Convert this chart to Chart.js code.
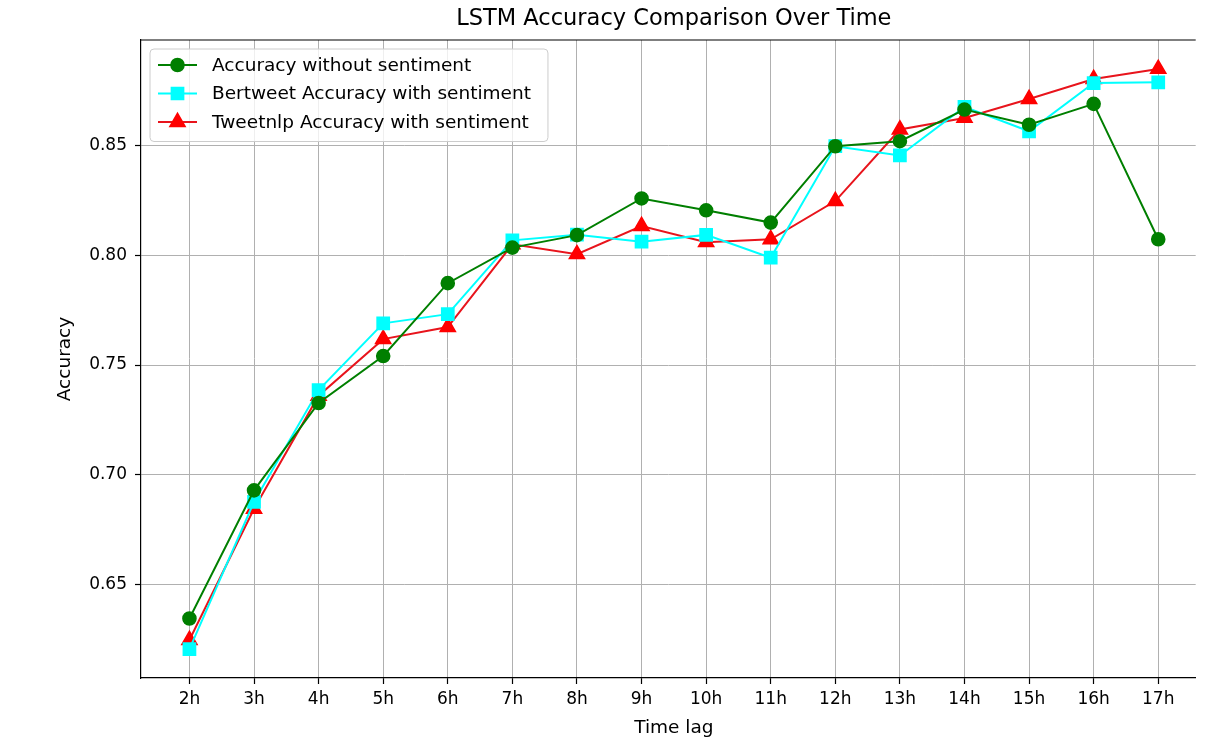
<!DOCTYPE html>
<html>
<head>
<meta charset="utf-8">
<title>LSTM Accuracy Comparison Over Time</title>
<script src="https://cdn.jsdelivr.net/npm/chart.js@4.4.0/dist/chart.umd.min.js"></script>
<style>
  html, body { margin: 0; padding: 0; background: #fff; overflow: hidden; }
  #wrap { width: 1206px; height: 741px; }
</style>
</head>
<body>
<div id="wrap"><canvas id="accChart" width="1206" height="741"></canvas></div>
<script>
// time lags on the x axis
const timeLags = ['2h', '3h', '4h', '5h', '6h', '7h', '8h', '9h', '10h', '11h', '12h', '13h', '14h', '15h', '16h', '17h'];

// accuracy per time lag
const accNoSentiment = [0.6345, 0.6929, 0.7327, 0.7541, 0.7873, 0.8035, 0.8092, 0.8259, 0.8205, 0.8149, 0.8497, 0.8520, 0.8664, 0.8595, 0.8690, 0.8073];
const accBertweet    = [0.6206, 0.6877, 0.7386, 0.7690, 0.7732, 0.8068, 0.8094, 0.8062, 0.8093, 0.7989, 0.8497, 0.8455, 0.8676, 0.8565, 0.8785, 0.8788];
const accTweetnlp    = [0.6247, 0.6845, 0.7360, 0.7618, 0.7673, 0.8050, 0.8005, 0.8133, 0.8060, 0.8073, 0.8247, 0.8573, 0.8626, 0.8712, 0.8803, 0.8849];

const yTicks = [0.65, 0.70, 0.75, 0.80, 0.85];

const FONT = "'DejaVu Sans', sans-serif";

// axes run from -0.75 to 15.75; the page cuts it off a little before the right end
const X_MIN = -0.75, X_FULL_MAX = 15.75, X_VISIBLE_MAX = 15.58;

function toPoints(values) {
    return values.map((v, i) => ({ x: i, y: v }));
}

// top spine, titles and an in-plot legend box
const extrasPlugin = {
    id: 'extras',
    afterDraw(chart) {
        const ctx = chart.ctx;
        const area = chart.chartArea;
        const xScale = chart.scales.x;
        const centreX = xScale.getPixelForValue((X_MIN + X_FULL_MAX) / 2);
        ctx.save();

        ctx.strokeStyle = '#000';
        ctx.lineWidth = 1.2;
        ctx.beginPath();
        ctx.moveTo(area.left, area.top);
        ctx.lineTo(area.right, area.top);
        ctx.stroke();

        // title and x axis label, centred on the whole axes
        ctx.fillStyle = '#000';
        ctx.textAlign = 'center';
        ctx.textBaseline = 'middle';
        ctx.font = '22.5px ' + FONT;
        ctx.fillText('LSTM Accuracy Comparison Over Time', centreX, 19);
        ctx.font = '18.5px ' + FONT;
        ctx.fillText('Time lag', centreX, 728);

        // legend
        const datasets = chart.data.datasets;
        ctx.font = '18.5px ' + FONT;
        let maxW = 0;
        datasets.forEach(ds => { maxW = Math.max(maxW, ctx.measureText(ds.label).width); });
        const boxX = 150, boxY = 49, rowH = 28.5;
        const textX = 212;
        const boxW = textX - boxX + maxW + 17;
        const boxH = rowH * datasets.length + 7;
        ctx.beginPath();
        ctx.roundRect(boxX, boxY, boxW, boxH, 4);
        ctx.fillStyle = 'rgba(255,255,255,0.8)';
        ctx.fill();
        ctx.strokeStyle = '#cccccc';
        ctx.lineWidth = 1;
        ctx.stroke();

        datasets.forEach((ds, i) => {
            const y = boxY + 16 + i * rowH;
            ctx.strokeStyle = ds.borderColor;
            ctx.lineWidth = ds.borderWidth;
            ctx.beginPath();
            ctx.moveTo(158, y);
            ctx.lineTo(197, y);
            ctx.stroke();
            ctx.fillStyle = ds.pointBackgroundColor;
            ctx.strokeStyle = ds.pointBorderColor;
            Chart.helpers.drawPoint(ctx, {
                pointStyle: ds.pointStyle,
                radius: ds.pointRadius,
                rotation: 0,
                borderWidth: 1
            }, 177.5, y);
            ctx.fillStyle = '#000';
            ctx.textAlign = 'left';
            ctx.textBaseline = 'middle';
            ctx.fillText(ds.label, textX, y + 1);
        });

        ctx.restore();
    }
};

const ctx = document.getElementById('accChart').getContext('2d');
new Chart(ctx, {
    type: 'line',
    data: {
        datasets: [{
            label: 'Accuracy without sentiment',
            data: toPoints(accNoSentiment),
            borderColor: '#007f00',
            pointBackgroundColor: '#007f00',
            pointBorderColor: '#007f00',
            pointStyle: 'circle',
            pointRadius: 6.3,
            borderWidth: 2,
            tension: 0
        }, {
            label: 'Bertweet Accuracy with sentiment',
            data: toPoints(accBertweet),
            borderColor: '#00ffff',
            pointBackgroundColor: '#00ffff',
            pointBorderColor: '#00ffff',
            pointStyle: 'rect',
            pointRadius: 8.3,
            borderWidth: 2,
            tension: 0
        }, {
            label: 'Tweetnlp Accuracy with sentiment',
            data: toPoints(accTweetnlp),
            borderColor: '#e8141c',
            pointBackgroundColor: '#ff0000',
            pointBorderColor: '#ff0000',
            pointStyle: 'triangle',
            pointRadius: 8.3,
            borderWidth: 2,
            tension: 0
        }]
    },
    options: {
        responsive: false,
        devicePixelRatio: 1,
        animation: false,
        layout: { padding: { top: 40, left: 0, right: 0, bottom: 0 } },
        plugins: {
            legend: { display: false },
            title: { display: false },
            tooltip: { enabled: false }
        },
        scales: {
            x: {
                type: 'linear',
                min: X_MIN,
                max: X_VISIBLE_MAX,
                afterBuildTicks: scale => { scale.ticks = timeLags.map((t, i) => ({ value: i })); },
                afterFit: scale => { scale.height = 63; },
                ticks: {
                    color: '#000',
                    font: { family: FONT, size: 17 },
                    padding: 5,
                    maxRotation: 0,
                    autoSkip: false,
                    callback: value => timeLags[value]
                },
                grid: {
                    color: '#b0b0b0',
                    lineWidth: 1,
                    tickLength: 6,
                    tickColor: '#000',
                    tickWidth: 1.2
                },
                border: { color: '#000', width: 1.2 },
                title: { display: false }
            },
            y: {
                min: 0.6074,
                max: 0.8981,
                afterBuildTicks: scale => { scale.ticks = yTicks.map(v => ({ value: v })); },
                afterFit: scale => { scale.width = 141; },
                ticks: {
                    color: '#000',
                    font: { family: FONT, size: 17 },
                    padding: 8,
                    callback: value => value.toFixed(2)
                },
                grid: {
                    color: '#b0b0b0',
                    lineWidth: 1,
                    tickLength: 6,
                    tickColor: '#000',
                    tickWidth: 1.2
                },
                border: { color: '#000', width: 1.2 },
                title: {
                    display: true,
                    text: 'Accuracy',
                    color: '#000',
                    font: { family: FONT, size: 18.5 },
                    padding: { top: 54, bottom: 0 }
                }
            }
        }
    },
    plugins: [extrasPlugin]
});
</script>
</body>
</html>
